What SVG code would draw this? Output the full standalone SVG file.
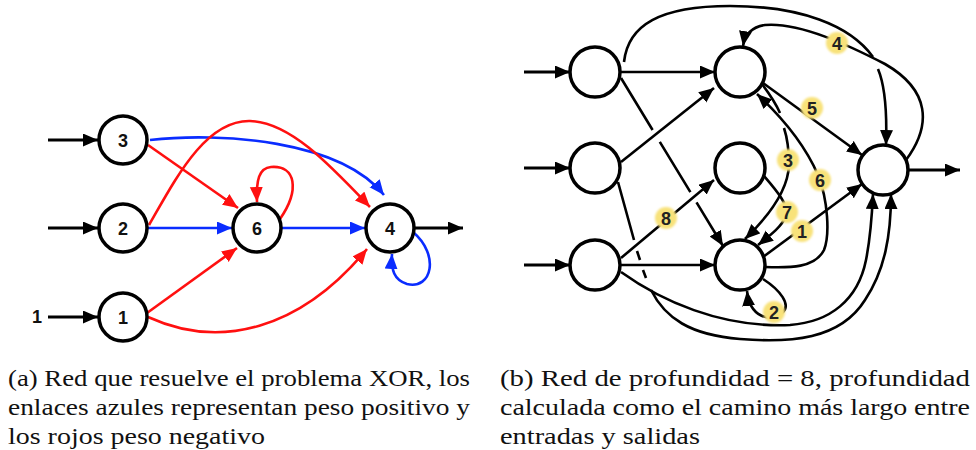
<svg xmlns="http://www.w3.org/2000/svg" width="976" height="450" viewBox="0 0 976 450">
<style>
.node{fill:#fff;stroke:#000;stroke-width:3.5}
.lbl{font-family:"Liberation Sans",Arial,sans-serif;font-weight:bold;font-size:18px;fill:#111;text-anchor:middle;dominant-baseline:central}
.k{fill:none;stroke:#000;stroke-width:2.6}
.r{fill:none;stroke:#ff1010;stroke-width:2.6}
.b{fill:none;stroke:#0a2cff;stroke-width:2.6}
.kb{fill:none;stroke:#000;stroke-width:3.2}
.cap{font-family:"Liberation Serif","Times New Roman",serif;font-size:22.5px;fill:#111}
.yl{fill:#f8e27a;filter:url(#soft)}
.num{font-family:"Liberation Sans",Arial,sans-serif;font-weight:bold;font-size:18px;fill:#222;text-anchor:middle;dominant-baseline:central}
</style>
<defs>
<filter id="soft" x="-50%" y="-50%" width="200%" height="200%"><feGaussianBlur stdDeviation="1.3"/></filter>
<marker id="ak" markerUnits="userSpaceOnUse" markerWidth="16" markerHeight="14" refX="15" refY="6.5" orient="auto"><path d="M0,0 L15,6.5 L0,13 z" fill="#000"/></marker>
<marker id="ar" markerUnits="userSpaceOnUse" markerWidth="16" markerHeight="14" refX="15" refY="6.5" orient="auto"><path d="M0,0 L15,6.5 L0,13 z" fill="#ff1010"/></marker>
<marker id="ab" markerUnits="userSpaceOnUse" markerWidth="16" markerHeight="14" refX="15" refY="6.5" orient="auto"><path d="M0,0 L15,6.5 L0,13 z" fill="#0a2cff"/></marker>
</defs>
<rect width="976" height="450" fill="#fff"/>

<!-- (a) connectors -->
<g id="connectors-a">
<path class="kb" d="M48,140 H98" marker-end="url(#ak)"/>
<path class="kb" d="M48,228 H98" marker-end="url(#ak)"/>
<path class="kb" d="M48,317 H98" marker-end="url(#ak)"/>
<path class="kb" d="M415,228 H463" marker-end="url(#ak)"/>
<path class="b" d="M150,140 C220,132 340,140 384,195" marker-end="url(#ab)"/>
<path class="r" d="M148,145 L238,208" marker-end="url(#ar)"/>
<path class="r" d="M149,225 C175,180 205,120 250,121 C290,122 330,165 370,207" marker-end="url(#ar)"/>
<path class="b" d="M148,228 H232" marker-end="url(#ab)"/>
<path class="r" d="M280,219 C300,190 296,165 271,167 C259,168 256,180 257,202" marker-end="url(#ar)"/>
<path class="b" d="M282,228 H365" marker-end="url(#ab)"/>
<path class="r" d="M147,313 L237,248" marker-end="url(#ar)"/>
<path class="r" d="M148,317 C220,350 300,330 367,249" marker-end="url(#ar)"/>
<path class="b" d="M413,232 C440,255 432,290 407,284 C394,280 391,270 392,254" marker-end="url(#ab)"/>
</g>
<text class="lbl" x="37" y="317">1</text>
<g id="a3"><circle class="node" cx="123" cy="140" r="24"/><text class="lbl" x="123" y="141">3</text></g>
<g id="a2"><circle class="node" cx="123" cy="228" r="24"/><text class="lbl" x="123" y="229">2</text></g>
<g id="a1"><circle class="node" cx="123" cy="317" r="24"/><text class="lbl" x="123" y="318">1</text></g>
<g id="a6"><circle class="node" cx="257" cy="228" r="24"/><text class="lbl" x="257" y="229">6</text></g>
<g id="a4"><circle class="node" cx="390" cy="228" r="24"/><text class="lbl" x="390" y="229">4</text></g>

<!-- (b) connectors -->
<g id="connectors-b">
<path class="kb" d="M524,72 H570" marker-end="url(#ak)"/>
<path class="kb" d="M524,168 H570" marker-end="url(#ak)"/>
<path class="kb" d="M524,265 H570" marker-end="url(#ak)"/>
<path class="kb" d="M908,170 H960" marker-end="url(#ak)"/>
<path class="k" d="M620,72 H715" marker-end="url(#ak)"/>
<path class="k" d="M621,78 L652.6,130 M659.8,141.8 L690.4,192.2 M696.5,202.3 L723,246" marker-end="url(#ak)"/>
<path class="k" d="M624,62 C628,25 660,6 730,6 C800,6 850,25 873,57 M878,69 C886,88 887,115 886,145" marker-end="url(#ak)"/>
<path class="k" d="M906,160 C932,125 930,90 885,64 C850,46 800,22 765,25 C752,27 745,34 743,46" marker-end="url(#ak)"/>
<path class="k" d="M621,162 L714,88" marker-end="url(#ak)"/>
<path class="k" d="M618,182 L634,240 M637,251 L640,260 M643,270 L646,278 M651,290 C665,318 690,335 740,339 C790,343 840,340 865,300 C885,270 891,235 891,194" marker-end="url(#ak)"/>
<path class="k" d="M621,272 C660,300 720,328 790,325 C830,322 858,300 866,260 C870,240 872,215 873,194" marker-end="url(#ak)"/>
<path class="k" d="M621,258 L714,180" marker-end="url(#ak)"/>
<path class="k" d="M620,265 H715" marker-end="url(#ak)"/>
<path class="k" d="M763,83 L862,155" marker-end="url(#ak)"/>
<path class="k" d="M762,84 C771,96 777,106 780,113 M784,128 C788,140 789,152 789,165 C788,190 770,215 745,239" marker-end="url(#ak)"/>
<path class="k" d="M764,176 C776,190 790,206 786,216 C782,226 772,234 758,245" marker-end="url(#ak)"/>
<path class="k" d="M765,267 C790,268 815,268 824,250 C830,235 828,200 818,175 C805,145 785,120 757,94" marker-end="url(#ak)"/>
<path class="k" d="M763,257 L862,184" marker-end="url(#ak)"/>
<path class="k" d="M763,279 C780,290 792,305 782,313 C770,322 750,318 747,291" marker-end="url(#ak)"/>
</g>
<g id="b-in1"><circle class="node" cx="595" cy="72" r="25"/></g>
<g id="b-in2"><circle class="node" cx="595" cy="168" r="25"/></g>
<g id="b-in3"><circle class="node" cx="595" cy="265" r="25"/></g>
<g id="b-h1"><circle class="node" cx="740" cy="72" r="25"/></g>
<g id="b-h2"><circle class="node" cx="740" cy="168" r="25"/></g>
<g id="b-h3"><circle class="node" cx="740" cy="265" r="25"/></g>
<g id="b-out"><circle class="node" cx="883" cy="170" r="25"/></g>

<g id="weights">
<circle class="yl" cx="837" cy="43" r="11"/><text class="num" x="837" y="44">4</text>
<circle class="yl" cx="812" cy="108" r="11"/><text class="num" x="812" y="109">5</text>
<circle class="yl" cx="788" cy="160" r="11"/><text class="num" x="788" y="161">3</text>
<circle class="yl" cx="820" cy="180" r="11"/><text class="num" x="820" y="181">6</text>
<circle class="yl" cx="787" cy="212" r="11"/><text class="num" x="787" y="213">7</text>
<circle class="yl" cx="802" cy="231" r="11"/><text class="num" x="802" y="232">1</text>
<circle class="yl" cx="666" cy="218" r="11"/><text class="num" x="666" y="219">8</text>
<circle class="yl" cx="774" cy="312" r="11"/><text class="num" x="774" y="313">2</text>
</g>

<g id="captions">
<text class="cap" x="8" y="386" textLength="462" lengthAdjust="spacingAndGlyphs">(a) Red que resuelve el problema XOR, los</text>
<text class="cap" x="8" y="415" textLength="462" lengthAdjust="spacingAndGlyphs">enlaces azules representan peso positivo y</text>
<text class="cap" x="8" y="444" textLength="257" lengthAdjust="spacingAndGlyphs">los rojos peso negativo</text>
<text class="cap" x="500" y="386" textLength="470" lengthAdjust="spacingAndGlyphs">(b) Red de profundidad = 8, profundidad</text>
<text class="cap" x="500" y="415" textLength="470" lengthAdjust="spacingAndGlyphs">calculada como el camino más largo entre</text>
<text class="cap" x="500" y="444" textLength="200" lengthAdjust="spacingAndGlyphs">entradas y salidas</text>
</g>
</svg>
